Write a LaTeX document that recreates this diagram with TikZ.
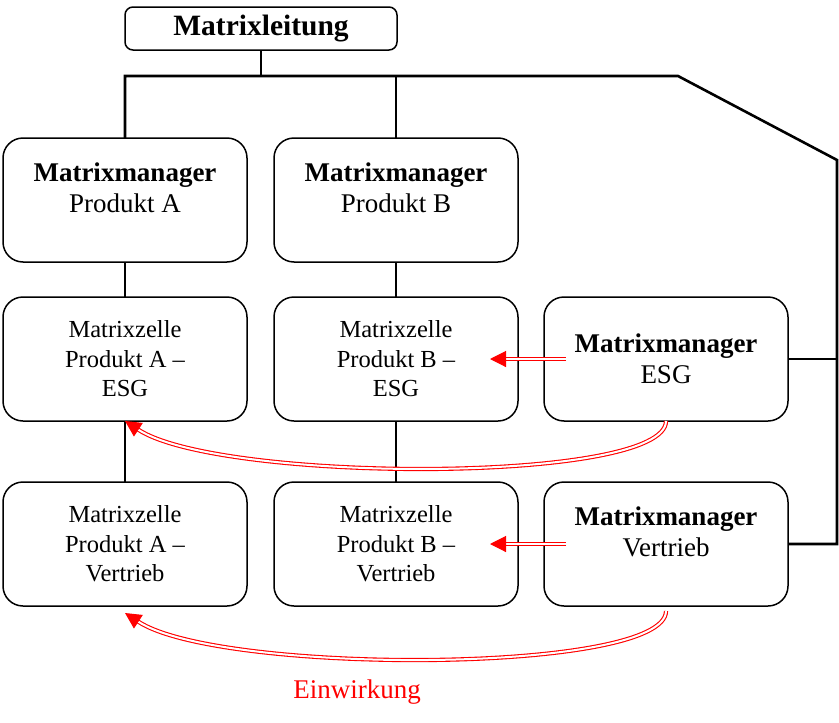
\documentclass[tikz,border=0pt]{standalone}
\usepackage{fontspec}
\setmainfont{Liberation Serif}
\usetikzlibrary{arrows.meta}
\begin{document}
\begin{tikzpicture}[x=1pt,y=-1pt,
  box/.style={draw, line width=1.5pt, rounded corners=20pt, minimum width=244pt, minimum height=124pt, inner sep=0pt, outer sep=0pt},
  mtext/.style={align=center, font=\fontsize{27}{31}\selectfont, inner sep=0pt},
  cell/.style={box, align=center, font=\fontsize{24.5}{29.5}\selectfont},
  mgrbox/.style={box, align=center, font=\fontsize{27}{31}\selectfont},
  tree/.style={line width=2.6pt},
  infl/.style={draw=red, double=white, line width=1.1pt, double distance=2pt, -{Triangle[length=16pt,width=16pt]}},
]
\useasboundingbox (0,0) rectangle (839,723);

% top
\node[draw, line width=1.5pt, rounded corners=8pt, minimum width=272pt, minimum height=43pt, inner sep=0pt, outer sep=0pt,
      font=\fontsize{29.5}{33}\selectfont\bfseries] (ML) at (261,28.5) {Matrixleitung};

% row 1
\node[box] (mA) at (125,200) {};
\node[mtext] (tA) at (125,188) {\textbf{Matrixmanager}\\Produkt A};
\node[box] (mB) at (396,200) {};
\node[mtext] (tB) at (396,188) {\textbf{Matrixmanager}\\Produkt B};

% row 2
\node[cell] (cAE) at (125,359) {Matrixzelle\\Produkt A --\\ESG};
\node[cell] (cBE) at (396,359) {Matrixzelle\\Produkt B --\\ESG};
\node[mgrbox] (mE) at (666,359) {\textbf{Matrixmanager}\\ESG};

% row 3
\node[cell] (cAV) at (125,544) {Matrixzelle\\Produkt A --\\Vertrieb};
\node[cell] (cBV) at (396,544) {Matrixzelle\\Produkt B --\\Vertrieb};
\node[box] (mV) at (666,544) {};
\node[mtext] (tV) at (666,532) {\textbf{Matrixmanager}\\Vertrieb};

% tree lines
\coordinate (J) at (261,76);
\coordinate (bend) at (678,76);
\coordinate (R) at (837,160);
\draw[tree] (ML.south) -- (J);
\draw[tree] (mA.north) -- (mA.north |- J) -- (bend) -- (R) -- (R |- mV.east) -- (mV.east);
\draw[tree] (mB.north) -- (mB.north |- J);
\draw[tree] (mE.east) -- (mE.east -| R);
\draw[tree] (mA.south) -- (cAE.north);
\draw[tree] (mB.south) -- (cBE.north);
\draw[tree] (cAE.south) -- (cAV.north);
\draw[tree] (cBE.south) -- (cBV.north);

% influence arrows
\draw[infl] ([xshift=22pt]mE.west) -- ([xshift=-28pt]cBE.east);
\draw[infl] ([xshift=22pt]mV.west) -- ([xshift=-28pt]cBV.east);
\draw[infl] (mE.south) .. controls +(0,63) and +(95,62) .. (cAE.south);
\draw[infl] ([yshift=-5pt]mV.south) .. controls +(0,63) and +(95,62) .. ([yshift=-7pt]cAV.south);

\node[red, font=\fontsize{27}{31}\selectfont, anchor=base, inner sep=0pt] (lbl) at (357,698) {Einwirkung};
\end{tikzpicture}
\end{document}
